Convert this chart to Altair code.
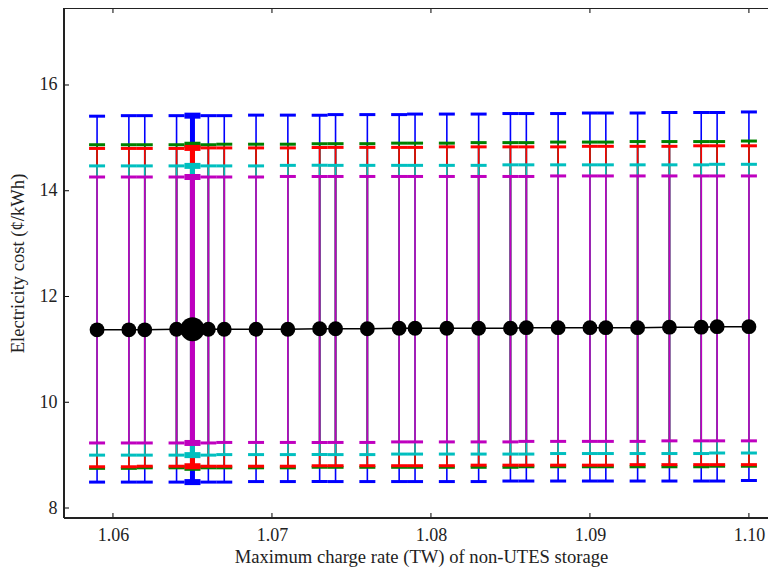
import altair as alt
import pandas as pd

x_vals = [1.059, 1.061, 1.062, 1.064, 1.065, 1.066, 1.067, 1.069, 1.071, 1.073, 1.074, 1.076, 1.078,
          1.079, 1.081, 1.083, 1.085, 1.086, 1.088, 1.090, 1.091, 1.093, 1.095, 1.097, 1.098, 1.100]
center = [11.37, 11.37, 11.37, 11.38, 11.38, 11.38, 11.38, 11.38, 11.38, 11.39, 11.39, 11.39, 11.40,
          11.40, 11.40, 11.40, 11.40, 11.41, 11.41, 11.41, 11.41, 11.41, 11.42, 11.42, 11.43, 11.43]
blue_hi = [15.41, 15.42, 15.42, 15.42, 15.42, 15.42, 15.42, 15.43, 15.43, 15.43, 15.44, 15.44, 15.44,
           15.45, 15.45, 15.45, 15.46, 15.46, 15.46, 15.47, 15.47, 15.47, 15.48, 15.48, 15.48, 15.49]
blue_lo = [8.49, 8.49, 8.49, 8.49, 8.49, 8.49, 8.49, 8.50, 8.50, 8.50, 8.50, 8.50, 8.50,
           8.50, 8.50, 8.50, 8.51, 8.51, 8.51, 8.51, 8.51, 8.51, 8.51, 8.51, 8.51, 8.52]
green_hi = [14.87, 14.87, 14.87, 14.87, 14.87, 14.87, 14.88, 14.88, 14.88, 14.89, 14.89, 14.89, 14.90,
            14.90, 14.90, 14.91, 14.91, 14.91, 14.92, 14.92, 14.92, 14.93, 14.93, 14.93, 14.93, 14.94]
green_lo = [8.75, 8.75, 8.76, 8.76, 8.76, 8.76, 8.76, 8.76, 8.76, 8.77, 8.77, 8.77, 8.77,
            8.77, 8.77, 8.77, 8.77, 8.78, 8.78, 8.78, 8.78, 8.78, 8.78, 8.78, 8.79, 8.79]
red_hi = [14.80, 14.80, 14.80, 14.80, 14.81, 14.81, 14.81, 14.81, 14.81, 14.82, 14.82, 14.82, 14.82,
          14.82, 14.83, 14.83, 14.83, 14.83, 14.83, 14.84, 14.84, 14.84, 14.84, 14.85, 14.85, 14.85]
red_lo = [8.78, 8.78, 8.79, 8.79, 8.79, 8.79, 8.79, 8.79, 8.79, 8.80, 8.80, 8.80, 8.80,
          8.80, 8.80, 8.81, 8.81, 8.81, 8.81, 8.81, 8.81, 8.82, 8.82, 8.82, 8.82, 8.82]
cyan_hi = [14.47, 14.47, 14.47, 14.47, 14.47, 14.47, 14.47, 14.47, 14.48, 14.48, 14.48, 14.48, 14.48,
           14.48, 14.48, 14.48, 14.49, 14.49, 14.49, 14.49, 14.49, 14.49, 14.49, 14.49, 14.50, 14.50]
cyan_lo = [9.00, 9.00, 9.00, 9.00, 9.00, 9.00, 9.01, 9.01, 9.01, 9.01, 9.01, 9.01, 9.02,
           9.02, 9.02, 9.02, 9.02, 9.02, 9.03, 9.03, 9.03, 9.03, 9.03, 9.03, 9.04, 9.04]
mag_hi = [14.26, 14.26, 14.26, 14.26, 14.26, 14.26, 14.26, 14.26, 14.27, 14.27, 14.27, 14.27, 14.27,
          14.27, 14.27, 14.27, 14.27, 14.27, 14.28, 14.28, 14.28, 14.28, 14.28, 14.28, 14.28, 14.28]
mag_lo = [9.23, 9.23, 9.23, 9.23, 9.23, 9.23, 9.24, 9.24, 9.24, 9.24, 9.24, 9.24, 9.25,
          9.25, 9.25, 9.25, 9.25, 9.26, 9.26, 9.26, 9.26, 9.26, 9.27, 9.27, 9.27, 9.27]
highlight_x = [1.065]

x_ticks = [1.06, 1.07, 1.08, 1.09, 1.10]
y_ticks = [8, 10, 12, 14, 16]

series = [
    ("blue", "#0000ff", blue_lo, blue_hi),
    ("green", "#008000", green_lo, green_hi),
    ("red", "#ff0000", red_lo, red_hi),
    ("cyan", "#00bfbf", cyan_lo, cyan_hi),
    ("magenta", "#bf00bf", mag_lo, mag_hi),
]

W, H = 704, 510
FONT = "Liberation Serif"
xs = alt.Scale(domain=[1.05692, 1.10120], nice=False, zero=False)
ys = alt.Scale(domain=[7.811, 17.456], nice=False, zero=False)

x_axis = alt.Axis(
    title="Maximum charge rate (TW) of non-UTES storage", values=x_ticks, format=".2f",
    ticks=False, domain=False, grid=False, labelPadding=8, titlePadding=3, titleX=W / 2 + 5,
    labelFont=FONT, labelFontSize=18, labelColor="#222", titleFont=FONT, titleFontSize=18.6,
    titleFontWeight="normal", titleColor="#222")
y_axis = alt.Axis(
    title="Electricity cost (¢/kWh)", values=y_ticks, format="d",
    ticks=False, domain=False, grid=False, labelPadding=7, titlePadding=12,
    labelFont=FONT, labelFontSize=18, labelColor="#222", titleFont=FONT, titleFontSize=18.6,
    titleFontWeight="normal", titleColor="#222")


def X(field):
    return alt.X(field, scale=xs, axis=x_axis)


def Y(field):
    return alt.Y(field, scale=ys, axis=y_axis)


layers = []
for hl in (False, True):
    for name, col, lo, hi in series:
        df = pd.DataFrame({"x": x_vals, "lo": lo, "hi": hi})
        if hl:
            df = df[df["x"].isin(highlight_x)]
        else:
            df = df[~df["x"].isin(highlight_x)]
        rule = alt.Chart(df).mark_rule(color=col, strokeWidth=5 if hl else 1.6).encode(
            x=X("x:Q"), y=Y("lo:Q"), y2="hi:Q")
        cap_lo = alt.Chart(df).mark_tick(color=col, orient="horizontal", size=16,
                                         thickness=6 if hl else 3, opacity=1).encode(
            x=X("x:Q"), y=Y("lo:Q"))
        cap_hi = alt.Chart(df).mark_tick(color=col, orient="horizontal", size=16,
                                         thickness=6 if hl else 3, opacity=1).encode(
            x=X("x:Q"), y=Y("hi:Q"))
        layers += [rule, cap_lo, cap_hi]

cdf = pd.DataFrame({"x": x_vals, "y": center})
line = alt.Chart(cdf).mark_line(color="black", strokeWidth=1.5).encode(x=X("x:Q"), y=Y("y:Q"))
pts = alt.Chart(cdf[~cdf["x"].isin(highlight_x)]).mark_circle(color="black", size=220, opacity=1).encode(
    x=X("x:Q"), y=Y("y:Q"))
big = alt.Chart(cdf[cdf["x"].isin(highlight_x)]).mark_circle(color="black", size=580, opacity=1).encode(
    x=X("x:Q"), y=Y("y:Q"))
layers += [line, pts, big]

# inward ticks (bottom, top, left)
xt = pd.DataFrame({"x": x_ticks})
yt = pd.DataFrame({"y": y_ticks})
tk = dict(color="black", strokeWidth=1)
layers += [
    alt.Chart(xt).mark_rule(**tk).encode(x=X("x:Q"), y=alt.value(H), y2=alt.value(H - 5)),
    alt.Chart(xt).mark_rule(**tk).encode(x=X("x:Q"), y=alt.value(0), y2=alt.value(5)),
    alt.Chart(yt).mark_rule(**tk).encode(y=Y("y:Q"), x=alt.value(0), x2=alt.value(5)),
]

# frame: left, top, bottom (right spine lies beyond the visible page in the reference)
fr = dict(color="#222", strokeWidth=2)
layers += [
    alt.Chart(xt).mark_rule(**fr).encode(x=alt.value(0), y=alt.value(0), y2=alt.value(H)),
    alt.Chart(xt).mark_rule(**fr).encode(x=alt.value(0), x2=alt.value(W), y=alt.value(0)),
    alt.Chart(xt).mark_rule(**fr).encode(x=alt.value(0), x2=alt.value(W), y=alt.value(H)),
]

chart = alt.layer(*layers).properties(
    width=W, height=H,
    padding={"left": 56, "top": 0, "right": 0, "bottom": 50},
    autosize=alt.AutoSizeParams(type="none"),
    background="white",
).configure_view(stroke=None)

chart.save("out.html", embed_options={"renderer": "svg", "actions": False})
